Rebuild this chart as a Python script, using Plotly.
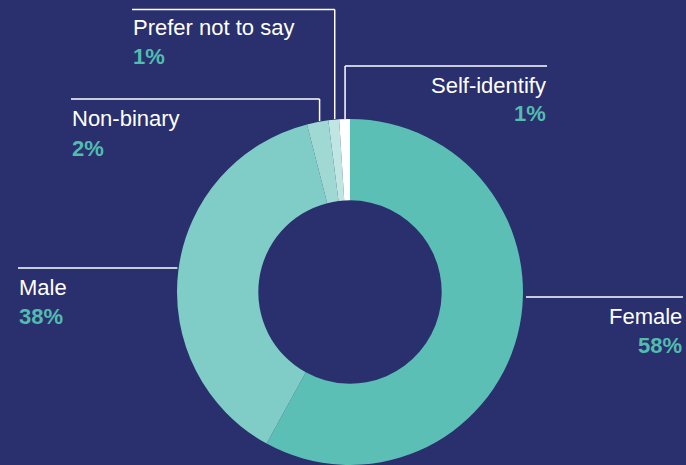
import math
import plotly.graph_objects as go

# Gender breakdown (share of respondents, %)
labels = ["Female", "Male", "Non-binary", "Prefer not to say", "Self-identify"]
values = [58, 38, 2, 1, 1]
colors = ["#5bbfb5", "#7fcdc6", "#a0d9d3", "#bfe6e2", "#ffffff"]

W, H = 686, 465
BG = "#2a2f6e"
TEAL = "#52bcae"
FONT = "Liberation Sans, Arial, sans-serif"

# pie geometry in pixels (ring touches the bottom edge)
CX, CY, R = 350, 292, 173
HOLE = 0.53


def px(x):
    return x / W


def py(y):
    return min(1.0, max(0.0, 1 - y / H))


fig = go.Figure(go.Pie(
    labels=labels,
    values=values,
    hole=HOLE,
    sort=False,
    direction="clockwise",
    rotation=0,
    marker=dict(colors=colors, line=dict(width=0)),
    textinfo="none",
    hoverinfo="label+percent",
    showlegend=False,
    domain=dict(x=[px(CX - R), px(CX + R)], y=[py(CY + R), py(CY - R)]),
))


def mid_point(i):
    """Point on the outer edge at the middle angle of slice i (clockwise from top)."""
    total = sum(values)
    start = sum(values[:i])
    ang = 2 * math.pi * (start + values[i] / 2) / total
    return CX + R * math.sin(ang), CY - R * math.cos(ang)


shapes = []


def seg(x0, y0, x1, y1):
    shapes.append(dict(type="line", xref="paper", yref="paper",
                       x0=px(x0), y0=py(y0), x1=px(x1), y1=py(y1),
                       line=dict(color="#ffffff", width=1.5)))


annotations = []


def label(x, y_name, name, pct, align):
    anchor = "left" if align == "left" else "right"
    annotations.append(dict(x=px(x), y=py(y_name), xref="paper", yref="paper",
                            text=name, showarrow=False, xanchor=anchor, yanchor="middle",
                            font=dict(family=FONT, size=22, color="#ffffff")))
    annotations.append(dict(x=px(x), y=py(y_name + 29), xref="paper", yref="paper",
                            text="<b>%d%%</b>" % pct, showarrow=False, xanchor=anchor,
                            yanchor="middle",
                            font=dict(family=FONT, size=22, color=TEAL)))


# Female: horizontal rule at the right, beside the ring
seg(CX + R + 3, 297, 683, 297)
label(684, 316, labels[0], values[0], "right")

# Male: rule ending at the slice midpoint
mx, my = mid_point(1)
seg(18, 268, mx - 1, 268)
label(17, 287, labels[1], values[1], "left")

# Small slices: vertical leaders from the top of the ring
nx, ny = mid_point(2)
seg(nx + 2, 121, nx + 2, 99)
seg(71, 99, nx + 2, 99)
label(70, 119, labels[2], values[2], "left")

qx, qy = mid_point(3)
seg(qx + 1, 119, qx + 1, 9.5)
seg(132, 9.5, qx + 1, 9.5)
label(131, 28, labels[3], values[3], "left")

sx, sy = mid_point(4)
seg(sx + 0.5, 119, sx + 0.5, 66)
seg(sx + 0.5, 66, 547, 66)
label(548, 85, labels[4], values[4], "right")

fig.update_layout(
    width=W, height=H,
    margin=dict(l=0, r=0, t=0, b=0),
    paper_bgcolor=BG,
    plot_bgcolor=BG,
    shapes=shapes,
    annotations=annotations,
)

fig.write_html("out.html", config={"displayModeBar": False})
